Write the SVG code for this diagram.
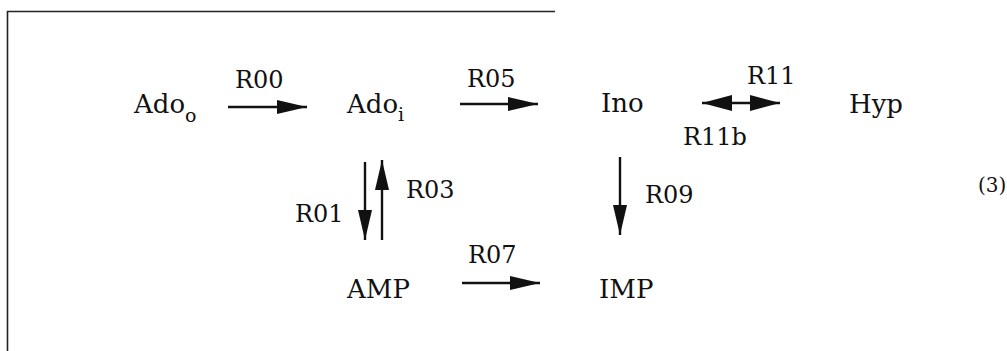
<svg xmlns="http://www.w3.org/2000/svg" width="1007" height="351" viewBox="0 0 1007 351">
<style>
.t{font-family:"DejaVu Serif","Liberation Serif",serif;font-size:26px;fill:#111}
.s{font-size:19px}
.l{font-family:"DejaVu Serif","Liberation Serif",serif;font-size:24px;fill:#111}
.c{stroke:#111;stroke-width:2.4;fill:none}
.b{stroke:#222;stroke-width:1.6;fill:none}
</style>
<defs>
<marker id="ah" markerUnits="userSpaceOnUse" markerWidth="32" markerHeight="16" refX="30" refY="8" orient="auto">
<path d="M0,1 L30,8 L0,15 Z" fill="#111"/>
</marker>
<marker id="as" markerUnits="userSpaceOnUse" markerWidth="32" markerHeight="18" refX="30" refY="9" orient="auto-start-reverse">
<path d="M0,1 L30,9 L0,17 Z" fill="#111"/>
</marker>
</defs>
<g id="frame"><path class="b" d="M555,11.5 H7.5 V351"/></g>
<g id="Ado_o"><text class="t" x="134" y="113">Ado<tspan class="s" dy="9">o</tspan></text></g>
<g id="Ado_i"><text class="t" x="347" y="113">Ado<tspan class="s" dy="8">i</tspan></text></g>
<g id="Ino"><text class="t" x="601" y="112">Ino</text></g>
<g id="Hyp"><text class="t" x="849" y="113">Hyp</text></g>
<g id="AMP"><text class="t" x="347" y="298">AMP</text></g>
<g id="IMP"><text class="t" x="599" y="298">IMP</text></g>
<g id="eq"><text class="l" x="978" y="192" style="font-size:20px">(3)</text></g>
<g id="connectors">
<line class="c" x1="228" y1="107" x2="307" y2="107" marker-end="url(#ah)"/>
<line class="c" x1="460" y1="104" x2="538" y2="104" marker-end="url(#ah)"/>
<line class="c" x1="702" y1="103" x2="780" y2="103" marker-start="url(#as)" marker-end="url(#as)"/>
<line class="c" x1="365" y1="162" x2="365" y2="240" marker-end="url(#ah)"/>
<line class="c" x1="382" y1="240" x2="382" y2="160" marker-end="url(#ah)"/>
<line class="c" x1="620" y1="157" x2="620" y2="235" marker-end="url(#ah)"/>
<line class="c" x1="462" y1="283" x2="540" y2="283" marker-end="url(#ah)"/>
<text class="l" x="235" y="88">R00</text>
<text class="l" x="467" y="87">R05</text>
<text class="l" x="747" y="84">R11</text>
<text class="l" x="683" y="145">R11b</text>
<text class="l" x="295" y="222">R01</text>
<text class="l" x="406" y="198">R03</text>
<text class="l" x="645" y="203">R09</text>
<text class="l" x="468" y="263">R07</text>
</g>
</svg>
